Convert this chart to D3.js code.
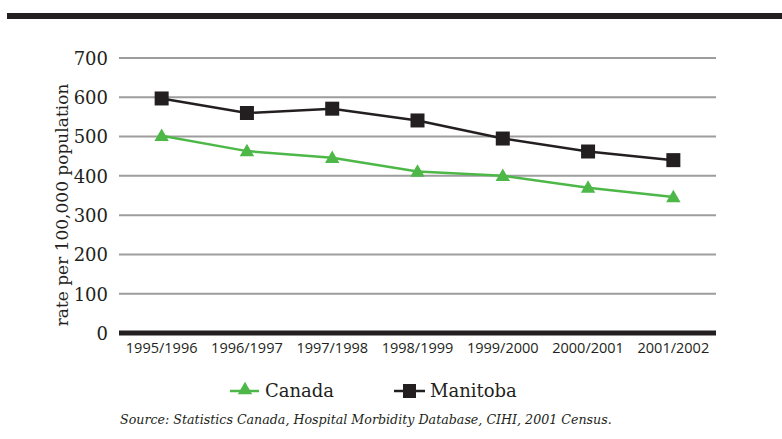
<!DOCTYPE html>
<html>
<head>
<meta charset="utf-8">
<script src="https://cdn.jsdelivr.net/npm/d3@7"></script>
<style>
  html, body { margin: 0; padding: 0; background: #fff; }
  svg { display: block; }
</style>
</head>
<body>
<svg id="chart" width="782" height="439"></svg>
<script>
// Hospitalization rate per 100,000 population, by fiscal year
const years = ["1995/1996", "1996/1997", "1997/1998", "1998/1999", "1999/2000", "2000/2001", "2001/2002"];
const canada = [502, 463, 446, 411, 400, 370, 346];
const manitoba = [597, 560, 571, 541, 495, 462, 440];
const yTicks = [0, 100, 200, 300, 400, 500, 600, 700];
const seriesNames = ["Canada", "Manitoba"];

const green = "#4db848";
const dark = "#231f20";
const serif = "'DejaVu Serif', serif";
const sans = "'Open Sans', 'Noto Sans', sans-serif";

const svg = d3.select("#chart");

// Rule across the top of the figure
svg.append("rect").attr("x", 7).attr("y", 13).attr("width", 775).attr("height", 6).attr("fill", dark);

const plot = { left: 119, right: 716, top: 58, bottom: 333 };

const x = d3.scaleBand().domain(years).range([plot.left, plot.right]);
const y = d3.scaleLinear().domain([0, 700]).range([plot.bottom, plot.top]);

// Horizontal gridlines
svg.append("g").selectAll("line")
  .data(yTicks.filter(d => d > 0))
  .join("line")
  .attr("x1", plot.left).attr("x2", plot.right)
  .attr("y1", d => y(d)).attr("y2", d => y(d))
  .attr("stroke", "#9d9d9d").attr("stroke-width", 2);

// Y axis labels
const yAxis = d3.axisLeft(y).tickValues(yTicks).tickSize(0).tickPadding(0);
const gy = svg.append("g").attr("transform", `translate(${plot.left - 11},0)`).call(yAxis);
gy.select(".domain").remove();
gy.selectAll("text")
  .attr("font-family", serif).attr("font-size", 18).attr("fill", dark)
  .attr("dy", "0.35em");

// Baseline
svg.append("line")
  .attr("x1", plot.left).attr("x2", plot.right)
  .attr("y1", y(0)).attr("y2", y(0))
  .attr("stroke", dark).attr("stroke-width", 5);

// X axis labels
const xAxis = d3.axisBottom(x).tickSize(0).tickPadding(0);
const gx = svg.append("g").attr("transform", `translate(0,${plot.bottom + 10})`).call(xAxis);
gx.select(".domain").remove();
gx.selectAll("text")
  .attr("font-family", sans).attr("font-size", 14.5).attr("fill", dark)
  .attr("dy", "0.71em");

// Y axis title
svg.append("text")
  .attr("transform", `translate(68,205) rotate(-90)`)
  .attr("text-anchor", "middle")
  .attr("font-family", serif).attr("font-size", 17).attr("fill", dark)
  .text("rate per 100,000 population");

const cx = d => x(d) + x.bandwidth() / 2;
const line = d3.line().x((d, i) => cx(years[i])).y(d => y(d));

const triangle = d3.symbol().type(d3.symbolTriangle).size(90);

// Canada series
svg.append("path").datum(canada)
  .attr("d", line).attr("fill", "none").attr("stroke", green).attr("stroke-width", 2.5);
svg.append("g").selectAll("path")
  .data(canada).join("path")
  .attr("d", triangle)
  .attr("transform", (d, i) => `translate(${cx(years[i])},${y(d) + 1})`)
  .attr("fill", green);

// Manitoba series
svg.append("path").datum(manitoba)
  .attr("d", line).attr("fill", "none").attr("stroke", dark).attr("stroke-width", 2.5);
svg.append("g").selectAll("rect")
  .data(manitoba).join("rect")
  .attr("x", (d, i) => cx(years[i]) - 7)
  .attr("y", d => y(d) - 7)
  .attr("width", 14).attr("height", 14)
  .attr("fill", dark);

// Legend
const legend = svg.append("g");
const legY = 391;
legend.append("line").attr("x1", 230).attr("x2", 259).attr("y1", legY).attr("y2", legY)
  .attr("stroke", green).attr("stroke-width", 2.5);
legend.append("path").attr("d", triangle)
  .attr("transform", `translate(245,${legY - 1})`).attr("fill", green);
legend.append("text").attr("x", 265).attr("y", legY).attr("dy", "0.35em")
  .attr("font-family", serif).attr("font-size", 18).attr("fill", dark).text(seriesNames[0]);

legend.append("line").attr("x1", 394).attr("x2", 425).attr("y1", legY).attr("y2", legY)
  .attr("stroke", dark).attr("stroke-width", 2.5);
legend.append("rect").attr("x", 403).attr("y", legY - 7).attr("width", 13).attr("height", 14).attr("fill", dark);
legend.append("text").attr("x", 430).attr("y", legY).attr("dy", "0.35em")
  .attr("font-family", serif).attr("font-size", 18).attr("fill", dark).text(seriesNames[1]);

// Source note
svg.append("text").attr("x", 120).attr("y", 424)
  .attr("font-family", serif).attr("font-style", "italic").attr("font-size", 12.65).attr("fill", dark)
  .text("Source: Statistics Canada, Hospital Morbidity Database, CIHI, 2001 Census.");
</script>
</body>
</html>
